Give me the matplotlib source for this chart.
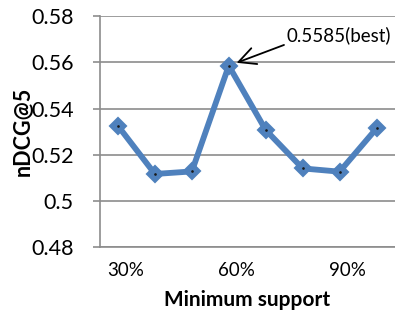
import matplotlib
matplotlib.use("Agg")
import matplotlib.pyplot as plt
import numpy as np

plt.rcParams['font.family'] = ['Lato', 'DejaVu Sans']

categories = ['30%', '40%', '50%', '60%', '70%', '80%', '90%', '100%']
ndcg = [0.5325, 0.5117, 0.5128, 0.5585, 0.5307, 0.5141, 0.5127, 0.5314]
shown_labels = ['30%', '60%', '90%']
y_ticks = [0.48, 0.50, 0.52, 0.54, 0.56, 0.58]
y_tick_labels = ['0.48', '0.5', '0.52', '0.54', '0.56', '0.58']
best_label = '0.5585(best)'

blue = '#4F81BD'
grid_gray = '#8C8C8C'

fig = plt.figure(figsize=(3.95, 3.16), dpi=100)
ax = fig.add_axes([0.2519, 0.2174, 0.7481, 0.7320])

x = np.arange(len(categories))
ax.plot(x, ndcg, color=blue, lw=4.2, marker='D', ms=8.5, mfc=blue, mec=blue,
        mew=1.5, zorder=3, solid_joinstyle='miter')
ax.plot(x, ndcg, ls='none', marker='.', ms=1.8, color='#1a1a1a', zorder=4)

ax.set_xlim(-0.5, len(categories) - 0.5)
ax.set_ylim(0.48, 0.58)

ax.set_yticks(y_ticks)
ax.set_yticklabels(y_tick_labels, fontsize=15.5)
ax.tick_params(axis='y', direction='out', length=5, width=1.2, color=grid_gray,
               pad=13.5)

idx = [categories.index(c) for c in shown_labels]
tick_pos = [i + 0.2 for i in idx]
ax.set_xticks(tick_pos)
ax.set_xticklabels(shown_labels, fontsize=13.5)
ax.tick_params(axis='x', length=0, pad=10.5)

ax.grid(axis='y', color=grid_gray, lw=1.2)
ax.set_axisbelow(True)
for s in ['top', 'right']:
    ax.spines[s].set_visible(False)
for s in ['left', 'bottom']:
    ax.spines[s].set_color(grid_gray)
    ax.spines[s].set_linewidth(1.2)

ax.set_xlabel('Minimum support', fontsize=15, fontweight='bold', labelpad=8)
ax.set_ylabel('nDCG@5', fontsize=15.5, fontweight='bold', labelpad=-2)

best_i = int(np.argmax(ndcg))
ax.annotate(best_label, xy=(best_i, ndcg[best_i]), xytext=(4.57, 0.5718),
            fontsize=13.5, va='center', ha='left',
            arrowprops=dict(arrowstyle='->,head_length=0.9,head_width=0.45',
                            color='black', lw=1.3, shrinkA=0, shrinkB=6,
                            relpos=(0.0, 0.0)))

fig.savefig('out.png', dpi=100)
